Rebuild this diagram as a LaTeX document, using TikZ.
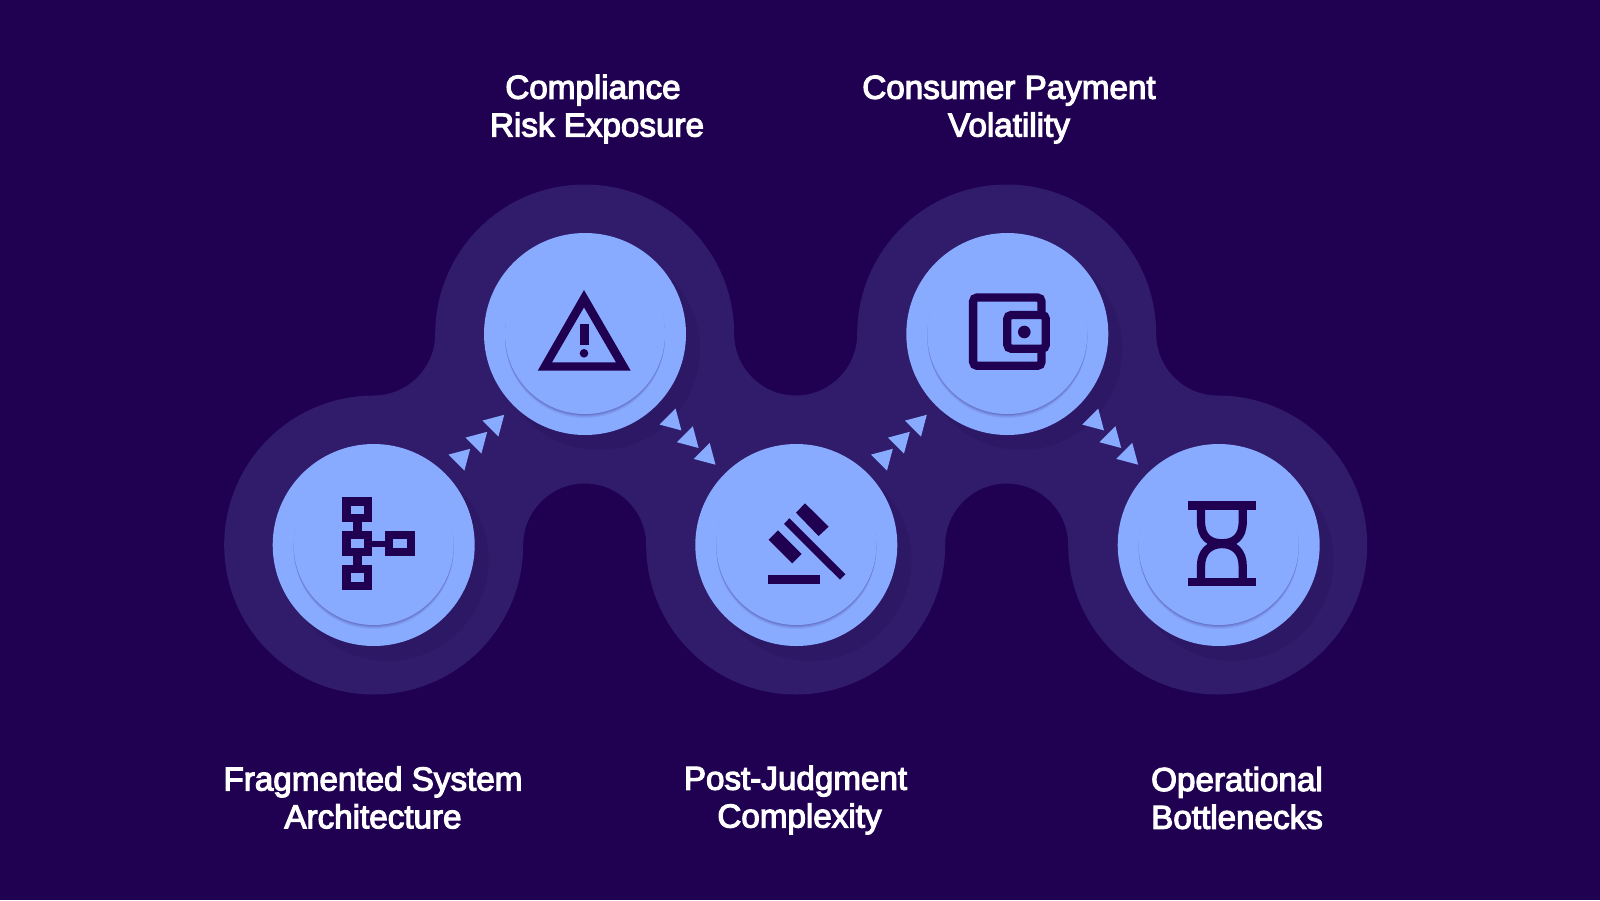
\documentclass[tikz,border=0pt]{standalone}
\usepackage{fontspec}
\setmainfont{Liberation Sans}[FakeBold=3.5]
\usetikzlibrary{positioning}
\definecolor{bgcol}{RGB}{32,0,80}
\definecolor{bandcol}{RGB}{48,28,106}
\definecolor{shadecol}{RGB}{44,24,100}
\definecolor{disccol}{RGB}{136,170,255}
\tikzset{
	disc/.style={circle,fill=disccol,minimum size=101pt,inner sep=0pt},
	caption/.style={text=white,font=\fontsize{16.6pt}{18.9pt}\selectfont,align=center,inner sep=0pt},
	iconline/.style={draw=bgcol,line width=4.15pt},
	tritip/.style={fill=disccol}
}
% one step of a chain: a small triangle
\newcommand{\tipchain}[3]{
	\fill[tritip,shift={(#1,#2)},rotate=#3] (13,0) -- (-6.5,11.3) -- (-6.5,-11.3) -- cycle;
}
% disc with its offset shade and inner rim
\newcommand{\discat}[3]{
	\fill[shadecol] (#2,#3) ++(14,15) circle (101);
	\node[disc] (#1) at (#2,#3) {};
	\fill[bgcol,opacity=0.05] (#2,#3) ++(0,4) circle (80);
	\fill[bgcol,opacity=0.07] (#2,#3) ++(0,3) circle (80);
	\fill[bgcol,opacity=0.09] (#2,#3) ++(0,2) circle (80);
	\fill[bgcol,opacity=0.12] (#2,#3) ++(0,1) circle (80);
	\fill[disccol] (#2,#3) circle (80);
}
\begin{document}
\begin{tikzpicture}[x=0.5pt,y=-0.5pt]
	\useasboundingbox (0,0) rectangle (1600,900);
	\fill[bgcol] (0,0) rectangle (1600,900);
	% band behind the discs
	\fill[bandcol] (224.2,545) arc[start angle=180,end angle=270,radius=149.5]
		arc[start angle=90,end angle=0,radius=61.5]
		arc[start angle=180,end angle=360,radius=149.5]
		arc[start angle=180,end angle=0,radius=61.5]
		arc[start angle=180,end angle=360,radius=149.5]
		arc[start angle=180,end angle=90,radius=61.5]
		arc[start angle=-90,end angle=180,radius=149.5]
		arc[start angle=0,end angle=-180,radius=61.5]
		arc[start angle=0,end angle=180,radius=149.5]
		arc[start angle=0,end angle=-180,radius=61.5]
		arc[start angle=0,end angle=180,radius=149.5] -- cycle;
	\discat{system}{373.7}{545}
	\discat{risk}{585}{334}
	\discat{judgment}{796.3}{545}
	\discat{payment}{1007.3}{334}
	\discat{bottleneck}{1218.7}{545}
	% triangles between discs
	\tipchain{461}{458}{45}
	\tipchain{478}{441}{45}
	\tipchain{495}{424}{45}
	\tipchain{672.2}{421.2}{-45}
	\tipchain{689.4}{438.8}{-45}
	\tipchain{706.3}{455.5}{-45}
	\tipchain{883.6}{458}{45}
	\tipchain{900.6}{441}{45}
	\tipchain{917.6}{424}{45}
	\tipchain{1094.8}{421.2}{-45}
	\tipchain{1112}{438.8}{-45}
	\tipchain{1128.9}{455.5}{-45}
	% tree icon
	\begin{scope}[shift={(system.center)}]
		\fill[bgcol] (-20.7,-32) rectangle (-12,32);
		\fill[bgcol] (-8,-4.5) rectangle (18,1.5);
		\draw[iconline,fill=disccol] (-27.2,-43.6) rectangle (-5.4,-26.8);
		\draw[iconline,fill=disccol] (-27.2,-9.7) rectangle (-5.4,7.1);
		\draw[iconline,fill=disccol] (-27.2,24.3) rectangle (-5.4,41.1);
		\draw[iconline,fill=disccol] (15.6,-9.7) rectangle (37.4,7.1);
	\end{scope}
	% warning icon
	\begin{scope}[shift={(risk.center)}]
		\fill[bgcol,even odd rule] (-1,-44) -- (-47.3,36.7) -- (45.7,36.7) -- cycle
			(-1,-26.7) -- (-33,28.3) -- (31,28.3) -- cycle;
		\fill[bgcol] (-5.3,-10.3) rectangle (3.7,11);
		\fill[bgcol] (-1,19.3) circle (4.3);
	\end{scope}
	% gavel icon
	\begin{scope}[shift={(judgment.center)}]
		\fill[bgcol] (8.7,-41.7) -- (32.3,-18.3) -- (22.3,-9) -- (-0.3,-32.3) -- cycle;
		\fill[bgcol] (-7,-26.7) -- (49,29.3) -- (43.7,34.7) -- (-12.3,-21) -- cycle;
		\fill[bgcol] (-18.3,-14.7) -- (5.3,9) -- (-4,18.3) -- (-27.7,-5.3) -- cycle;
		\fill[bgcol] (-28,30.3) rectangle (23.7,39);
	\end{scope}
	% wallet icon
	\begin{scope}[shift={(payment.center)}]
		\draw[iconline,rounded corners=2pt] (-34.2,-36.5) rectangle (34.2,31.8);
		\draw[iconline,fill=disccol,rounded corners=2pt] (0,-19) rectangle (38.5,14.7);
		\fill[bgcol] (17,-2) circle (6.3);
	\end{scope}
	% hourglass icon
	\begin{scope}[shift={(bottleneck.center)}]
		\fill[bgcol] (-31,-43.7) rectangle (37.7,-35.3);
		\fill[bgcol] (-31,33) rectangle (37.7,41.3);
		\draw[iconline] (-17.7,-36) -- (-17.7,-23.3) .. controls (-17.7,-8) and (-9,-1.7) .. (3.3,-1.7)
			.. controls (15.6,-1.7) and (24,-8) .. (24,-23.3) -- (24,-36);
		\draw[iconline] (-17.7,34) -- (-17.7,21) .. controls (-17.7,7) and (-9,-1) .. (3.3,-1)
			.. controls (15.6,-1) and (24,7) .. (24,21) -- (24,34);
	\end{scope}
	% captions
	\node[caption] (riskcap) at (597,109) {Compliance\hspace*{4pt}\\Risk Exposure};
	\node[caption] (paycap) at (1009,109.5) {Consumer Payment\\Volatility};
	\node[caption] (systemcap) at (373,797.5) {Fragmented System\\Architecture};
	\node[caption] (judgmentcap) at (799.5,800) {Post-Judgment\hspace*{4pt}\\Complexity};
	\node[caption] (bottleneckcap) at (1237,798) {Operational\\Bottlenecks};
\end{tikzpicture}
\end{document}
